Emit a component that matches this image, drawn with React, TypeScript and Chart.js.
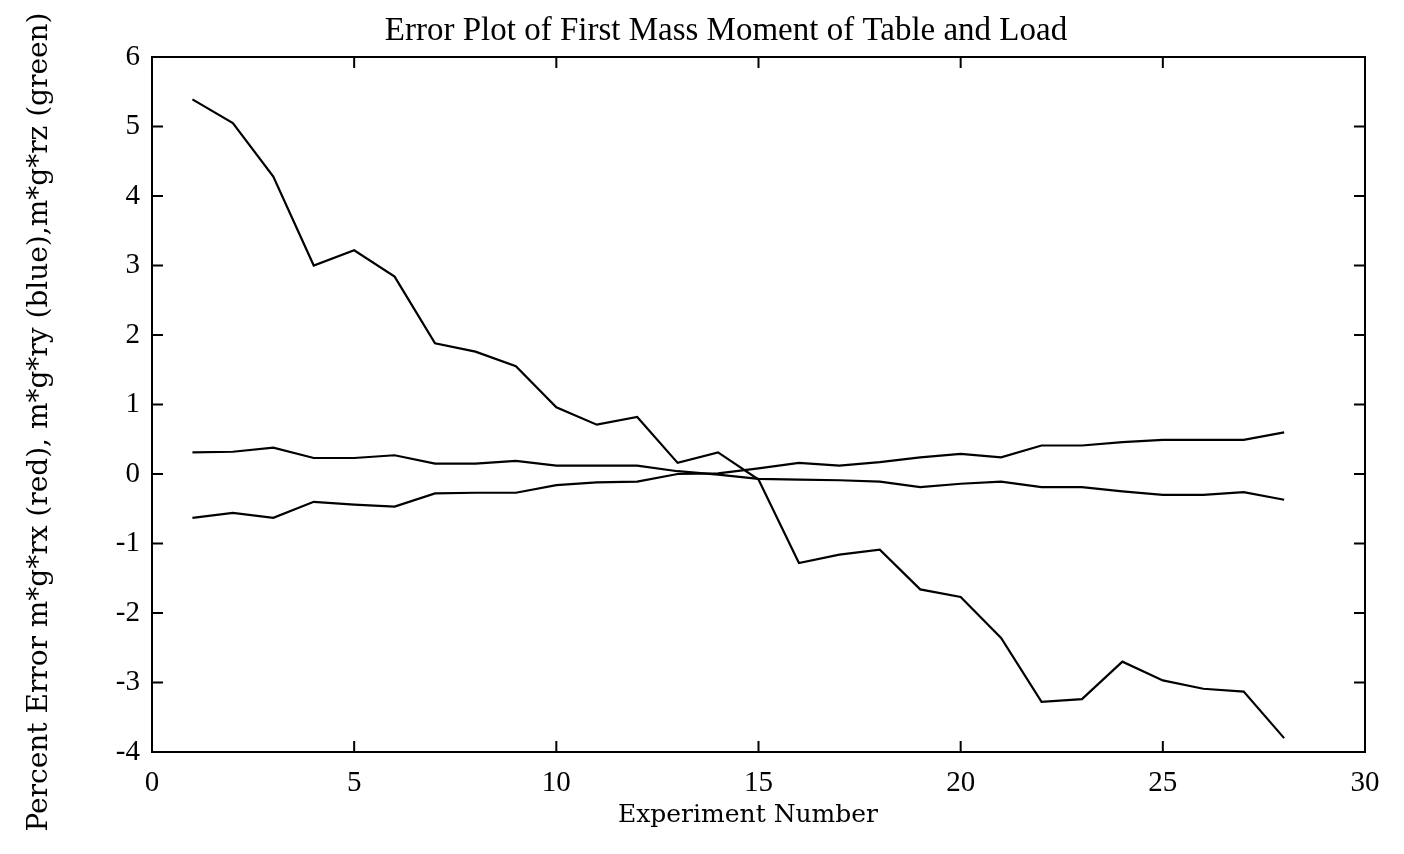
import React, { useEffect, useRef } from "react";
import { Chart, registerables } from "chart.js";

Chart.register(...registerables);

const experiments = [1, 2, 3, 4, 5, 6, 7, 8, 9, 10, 11, 12, 13, 14, 15, 16, 17, 18, 19, 20, 21, 22, 23, 24, 25, 26, 27, 28];

const seriesBig = [5.39, 5.05, 4.28, 3.0, 3.22, 2.84, 1.88, 1.76, 1.55, 0.96, 0.71, 0.82, 0.16, 0.31, -0.08, -1.28, -1.16, -1.09, -1.66, -1.77, -2.36, -3.28, -3.24, -2.7, -2.97, -3.09, -3.13, -3.8];
const seriesFalling = [0.31, 0.32, 0.38, 0.23, 0.23, 0.27, 0.15, 0.15, 0.19, 0.12, 0.12, 0.12, 0.04, -0.01, -0.07, -0.08, -0.09, -0.11, -0.19, -0.14, -0.11, -0.19, -0.19, -0.25, -0.3, -0.3, -0.26, -0.37];
const seriesRising = [-0.63, -0.56, -0.63, -0.4, -0.44, -0.47, -0.28, -0.27, -0.27, -0.16, -0.12, -0.11, 0.0, 0.01, 0.08, 0.16, 0.12, 0.17, 0.24, 0.29, 0.24, 0.41, 0.41, 0.46, 0.49, 0.49, 0.49, 0.6];

const titleText = "Error Plot of First Mass Moment of Table and Load";
const xTitle = "Experiment Number";
const yTitle = "Percent Error m*g*rx (red), m*g*ry (blue),m*g*rz (green)";

const TIMES = "'Liberation Serif', 'DejaVu Serif', serif";
const WIDE = "'DejaVu Serif', 'Liberation Serif', serif";

const frameTicks = {
  id: "frameTicks",
  afterDatasetsDraw(chart: any) {
    const { ctx, chartArea } = chart;
    const { left, right, top, bottom } = chartArea;
    const xs = chart.scales.x;
    const ys = chart.scales.y;
    const len = 11;
    ctx.save();
    ctx.strokeStyle = "#000";
    ctx.lineWidth = 2;
    ctx.strokeRect(left, top, right - left, bottom - top);
    ctx.beginPath();
    xs.ticks.forEach((t: any) => {
      const px = xs.getPixelForValue(t.value);
      ctx.moveTo(px, bottom);
      ctx.lineTo(px, bottom - len);
      ctx.moveTo(px, top);
      ctx.lineTo(px, top + len);
    });
    ys.ticks.forEach((t: any) => {
      const py = ys.getPixelForValue(t.value);
      ctx.moveTo(left, py);
      ctx.lineTo(left + len, py);
      ctx.moveTo(right, py);
      ctx.lineTo(right - len, py);
    });
    ctx.stroke();
    ctx.restore();
  },
  afterDraw(chart: any) {
    const { ctx } = chart;
    ctx.save();
    ctx.fillStyle = "#000";
    ctx.textAlign = "center";
    ctx.textBaseline = "middle";
    ctx.font = `33px ${TIMES}`;
    ctx.fillText(titleText, 726, 31);
    ctx.font = `25px ${WIDE}`;
    ctx.fillText(xTitle, 748, 815);
    ctx.translate(40, 422);
    ctx.rotate(-Math.PI / 2);
    ctx.font = `28px ${WIDE}`;
    ctx.fillText(yTitle, 0, 0);
    ctx.restore();
  },
};

export default function App() {
  const ref = useRef<HTMLCanvasElement | null>(null);

  useEffect(() => {
    if (!ref.current) return;
    const mk = (data: number[]) => ({
      data: experiments.map((x, i) => ({ x, y: data[i] })),
      borderColor: "#000",
      borderWidth: 2.2,
      pointRadius: 0,
      fill: false,
      tension: 0,
    });
    const chart = new Chart(ref.current, {
      type: "line",
      data: {
        datasets: [mk(seriesBig), mk(seriesFalling), mk(seriesRising)],
      },
      options: {
        responsive: false,
        animation: false,
        layout: { padding: { left: 0, right: 39, top: 57, bottom: 0 } },
        plugins: {
          legend: { display: false },
          tooltip: { enabled: false },
          title: { display: false },
        },
        scales: {
          x: {
            type: "linear",
            min: 0,
            max: 30,
            afterFit: (s: any) => {
              s.height = 102;
            },
            ticks: {
              stepSize: 5,
              color: "#000",
              font: { family: TIMES, size: 29 },
              padding: 14,
              maxRotation: 0,
            },
            grid: { display: false, drawTicks: false },
            border: { display: false },
          },
          y: {
            type: "linear",
            min: -4,
            max: 6,
            afterFit: (s: any) => {
              s.width = 152;
            },
            ticks: {
              stepSize: 1,
              color: "#000",
              font: { family: TIMES, size: 29 },
              padding: 12,
            },
            grid: { display: false, drawTicks: false },
            border: { display: false },
          },
        },
      },
      plugins: [frameTicks],
    });
    return () => chart.destroy();
  }, []);

  return (
    <div style={{ position: "fixed", left: 0, top: 0, width: 1404, height: 854, background: "#fff" }}>
      <canvas ref={ref} width={1404} height={854} style={{ display: "block" }} />
    </div>
  );
}
